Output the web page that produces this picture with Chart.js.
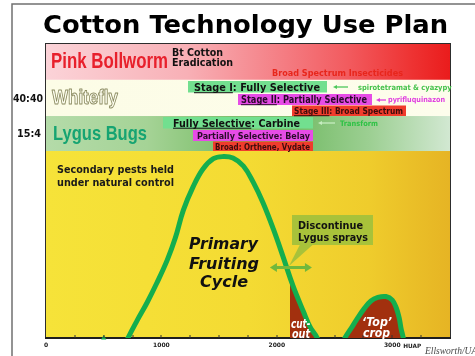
<!DOCTYPE html>
<html>
<head>
<meta charset="utf-8">
<script src="https://cdn.jsdelivr.net/npm/chart.js@4.4.1/dist/chart.umd.min.js"></script>
<style>html,body{margin:0;padding:0;background:#fff}</style>
</head>
<body>
<canvas id="myChart" width="475" height="356"></canvas>
<script>
// heat units (HUAP) on x, relative fruiting on y (0-100, 100 = top of panel)
const xMax = 3500;
const xTicks = [0, 1000, 2000, 3000];
// the curves run on below the axis and are clipped there
const curveX = [640, 710, 790, 875, 960, 1050, 1120, 1190, 1275, 1360, 1450, 1535, 1620, 1710, 1795, 1880, 1970, 2055, 2140, 2230, 2290, 2350, 2400];
const curveY = [-6, 0, 6, 12, 18.7, 26.5, 34, 43.5, 51.5, 57.5, 61, 61.7, 61.2, 58.5, 53, 46, 37, 27.5, 17.7, 9, 3.6, 0, -5];
const topCropX = [2560, 2590, 2645, 2695, 2755, 2815, 2875, 2945, 3000, 3035, 3060, 3075, 3095, 3110];
const topCropY = [-3, 0, 3.4, 6.5, 9.9, 12.6, 13.8, 14.1, 12.9, 10.2, 6.8, 3.4, 0, -4];
const cutoutStart = 2110;
const markerX = [500];
// band edges: pink bollworm / whitefly / lygus / field
const bandEdges = [100, 87.8, 75.5, 63.6, 0];
// discontinue lygus sprays window
const sprayArrow = [1940, 2304];
const sprayArrowY = 24;

const GREEN = '#14ae4e';
const BROWN = '#a2300e';
const VERD = "'DejaVu Sans', Verdana, sans-serif";
const NARROW = "'Liberation Sans Narrow', 'Liberation Sans', sans-serif";

const bandStops = [
  [[0, '#fbd3d8'], [0.35, '#f8b0b6'], [0.6, '#f47a80'], [0.75, '#f25a5e'], [0.9, '#ee3434'], [1, '#ea1c1c']],
  [[0, '#fcfce6'], [1, '#fdfdec']],
  [[0, '#b4dba9'], [0.25, '#a5d396'], [0.45, '#7dbf6b'], [0.62, '#76bc68'], [0.8, '#9ccf92'], [1, '#d2e8d2']],
  [[0, '#f6e339'], [0.5, '#f4db33'], [0.8, '#efcc2c'], [1, '#e6b424']]
];

function txt(ctx, s, x, y, o) {
  ctx.save();
  ctx.font = (o.style || '') + ' ' + (o.weight || 'bold') + ' ' + o.size + 'px ' + (o.family || VERD);
  ctx.textBaseline = 'alphabetic';
  const m = ctx.measureText(s).width;
  const sx = o.w ? o.w / m : 1;
  const left = o.align === 'center' ? x - m * sx / 2 : x;
  ctx.translate(left, y);
  ctx.scale(sx, 1);
  ctx.fillStyle = o.color || '#111';
  ctx.fillText(s, 0, 0);
  if (o.stroke) {
    ctx.lineWidth = o.lw || 1;
    ctx.strokeStyle = o.stroke;
    ctx.lineJoin = 'round';
    ctx.strokeText(s, 0, 0);
  }
  if (o.under) {
    ctx.fillRect(0, 1.2, ctx.measureText(o.under).width, 1);
  }
  ctx.restore();
}

function box(ctx, x, y, w, h, c) {
  ctx.fillStyle = c;
  ctx.fillRect(x, y, w, h);
}

// thin arrow pointing left
function leftArrow(ctx, x1, x2, y, c) {
  ctx.save();
  ctx.strokeStyle = c; ctx.fillStyle = c; ctx.lineWidth = 1.3;
  ctx.beginPath(); ctx.moveTo(x1, y); ctx.lineTo(x2 + 3, y); ctx.stroke();
  ctx.beginPath(); ctx.moveTo(x2, y); ctx.lineTo(x2 + 4, y - 2); ctx.lineTo(x2 + 4, y + 2); ctx.closePath(); ctx.fill();
  ctx.restore();
}

const slidePlugin = {
  id: 'slide',
  beforeDraw(chart) {
    const {ctx, chartArea: ca, scales: {y}} = chart;
    ctx.save();
    ctx.fillStyle = '#fff';
    ctx.fillRect(0, 0, chart.width, chart.height);
    ctx.strokeStyle = '#707070'; ctx.lineWidth = 1.5;
    ctx.beginPath(); ctx.moveTo(12, 356); ctx.lineTo(12, 4); ctx.lineTo(475, 4); ctx.stroke();

    // bands
    for (let i = 0; i < bandStops.length; i++) {
      const top = y.getPixelForValue(bandEdges[i]);
      const bot = y.getPixelForValue(bandEdges[i + 1]);
      const g = ctx.createLinearGradient(ca.left, 0, ca.right, 0);
      bandStops[i].forEach(s => g.addColorStop(s[0], s[1]));
      ctx.fillStyle = g;
      ctx.fillRect(ca.left, top, ca.right - ca.left, bot - top);
    }
    ctx.strokeStyle = '#2d2d2d'; ctx.lineWidth = 1;
    ctx.strokeRect(ca.left - 0.5, ca.top - 0.5, ca.right - ca.left + 1, ca.bottom - ca.top);

    txt(ctx, 'Cotton Technology Use Plan', 43, 33, {size: 25, w: 405, color: '#000'});

    txt(ctx, 'Pink Bollworm', 51, 68, {size: 22, w: 117, family: NARROW, color: '#e8202c'});
    txt(ctx, 'Bt Cotton', 172, 55.5, {size: 10.5, w: 51});
    txt(ctx, 'Eradication', 172, 65.5, {size: 10.5, w: 61});
    txt(ctx, 'Broad Spectrum Insecticides', 272, 76, {size: 9, w: 131, color: '#e8261c'});
    txt(ctx, '40:40', 13, 102, {size: 10.5, w: 30});
    txt(ctx, '15:4', 17, 137, {size: 10.5, w: 24});
    txt(ctx, 'Whitefly', 52, 104, {size: 21, w: 66, family: NARROW, color: '#fdfdf0', stroke: '#8c8c62', lw: 1});
    txt(ctx, 'Lygus Bugs', 53, 140, {size: 21, w: 94, family: NARROW, color: '#16a472'});

    // whitefly stages
    box(ctx, 188, 81, 139, 11.5, '#72df8f');
    txt(ctx, 'Stage I: Fully Selective', 194, 91, {size: 10.5, w: 126, under: 'Stage I'});
    leftArrow(ctx, 348, 333, 87, '#4cc85a');
    ctx.save();
    ctx.beginPath(); ctx.rect(0, 0, 452, 356); ctx.clip();
    txt(ctx, 'spirotetramat & cyazypyr', 358, 89.5, {size: 7.5, w: 97, color: '#46c24c'});
    ctx.restore();
    box(ctx, 238, 94, 134, 11, '#e64ce6');
    txt(ctx, 'Stage II: Partially Selective', 241, 103, {size: 10.5, w: 126, under: 'Stage II', color: '#2a0a2a'});
    leftArrow(ctx, 386, 376, 100, '#e040e0');
    txt(ctx, 'pyrifluquinazon', 388, 102, {size: 7.5, w: 57, color: '#e040e0'});
    box(ctx, 292, 105.5, 114, 10.5, '#f03c2c');
    txt(ctx, 'Stage III: Broad Spectrum', 294, 114, {size: 9.5, w: 109, under: 'Stage III', color: '#3c0c0c'});

    // lygus options
    box(ctx, 163, 117, 150, 11.5, '#72df8f');
    txt(ctx, 'Fully Selective: Carbine', 173, 126.5, {size: 10.5, w: 127, under: 'Fully Selective'});
    leftArrow(ctx, 335, 318, 123, '#c6ecc0');
    txt(ctx, 'Transform', 340, 125.5, {size: 7.5, w: 38, color: '#2ec245'});
    box(ctx, 193, 130, 120, 11, '#e64ce6');
    txt(ctx, 'Partially Selective: Belay', 197, 138.5, {size: 9.5, w: 113, color: '#2a0a2a'});
    box(ctx, 213, 141.5, 100, 9.5, '#f03c2c');
    txt(ctx, 'Broad: Orthene, Vydate', 215, 149.5, {size: 9, w: 95, color: '#3c0c0c'});

    txt(ctx, 'Secondary pests held', 57, 172.5, {size: 10.5, w: 117, color: '#1a1a1a'});
    txt(ctx, 'under natural control', 57, 185.5, {size: 10.5, w: 117, color: '#1a1a1a'});
    ctx.restore();
  },
  afterDatasetsDraw(chart) {
    const {ctx, chartArea: ca, scales: {x, y}} = chart;
    ctx.save();
    // minor ticks
    ctx.fillStyle = '#333';
    for (let v = 250; v < xMax; v += 250) {
      ctx.fillRect(Math.round(x.getPixelForValue(v)) - 0.5, ca.bottom - 3, 1, 3);
    }
    ctx.font = 'bold 6px ' + VERD;
    const hx = x.getPixelForValue(3000) + ctx.measureText('3000').width / 2 + 2.5;
    txt(ctx, 'HUAP', hx, 348, {size: 6, w: 18, color: '#222'});

    txt(ctx, 'Primary', 223.5, 249, {size: 16.5, w: 69, style: 'italic', align: 'center'});
    txt(ctx, 'Fruiting', 224, 268.5, {size: 16.5, w: 70, style: 'italic', align: 'center'});
    txt(ctx, 'Cycle', 224, 287, {size: 16.5, w: 48, style: 'italic', align: 'center'});

    // callout
    ctx.fillStyle = '#a8c23a';
    ctx.fillRect(292, 215, 81, 30);
    ctx.beginPath(); ctx.moveTo(300, 244.5); ctx.lineTo(313, 244.5); ctx.lineTo(289, 266); ctx.closePath(); ctx.fill();
    txt(ctx, 'Discontinue', 298, 228.5, {size: 10.5, w: 65});
    txt(ctx, 'Lygus sprays', 298, 241, {size: 10.5, w: 70});

    // double arrow
    const ax1 = x.getPixelForValue(sprayArrow[0]);
    const ax2 = x.getPixelForValue(sprayArrow[1]);
    const ay = y.getPixelForValue(sprayArrowY);
    ctx.strokeStyle = '#72b83c'; ctx.fillStyle = '#72b83c'; ctx.lineWidth = 3;
    ctx.beginPath(); ctx.moveTo(ax1 + 5, ay); ctx.lineTo(ax2 - 5, ay); ctx.stroke();
    ctx.beginPath(); ctx.moveTo(ax1, ay); ctx.lineTo(ax1 + 7, ay - 4.5); ctx.lineTo(ax1 + 7, ay + 4.5); ctx.closePath(); ctx.fill();
    ctx.beginPath(); ctx.moveTo(ax2, ay); ctx.lineTo(ax2 - 7, ay - 4.5); ctx.lineTo(ax2 - 7, ay + 4.5); ctx.closePath(); ctx.fill();

    txt(ctx, 'cut-', 291, 328, {size: 11.5, w: 19.5, style: 'italic', color: '#fff'});
    txt(ctx, 'out', 292, 337.5, {size: 11.5, w: 18, style: 'italic', color: '#fff'});
    txt(ctx, '\u2018Top\u2019', 362, 325.5, {size: 11.5, w: 30, style: 'italic', color: '#fff'});
    txt(ctx, 'crop', 363, 336.5, {size: 11.5, w: 27, style: 'italic', color: '#fff'});

    txt(ctx, 'Ellsworth/UA', 425, 353.5, {size: 9.5, weight: 'normal', style: 'italic', family: "'Liberation Serif', serif", color: '#4a4a4a'});
    ctx.restore();
  }
};

// brown fill only after cut-out
function cutoutFill(c) {
  const chart = c.chart;
  const ca = chart.chartArea;
  if (!ca) return 'rgba(0,0,0,0)';
  const px = chart.scales.x.getPixelForValue(cutoutStart);
  const t = (px - ca.left) / (ca.right - ca.left);
  const g = chart.ctx.createLinearGradient(ca.left, 0, ca.right, 0);
  g.addColorStop(0, 'rgba(0,0,0,0)');
  g.addColorStop(t, 'rgba(0,0,0,0)');
  g.addColorStop(t, BROWN);
  g.addColorStop(1, BROWN);
  return g;
}

var ctx = document.getElementById('myChart').getContext('2d');
var myChart = new Chart(ctx, {
  type: 'line',
  data: {
    datasets: [{
      label: 'Primary fruiting',
      data: curveX.map((v, i) => ({x: v, y: curveY[i]})),
      borderColor: GREEN,
      borderWidth: 5,
      pointRadius: 0,
      fill: 'origin',
      backgroundColor: cutoutFill,
      tension: 0.4,
      clip: {left: 0, top: 5, right: 0, bottom: 0}
    },
    {
      label: 'Top crop',
      data: topCropX.map((v, i) => ({x: v, y: topCropY[i]})),
      borderColor: GREEN,
      borderWidth: 5,
      pointRadius: 0,
      fill: 'origin',
      backgroundColor: BROWN,
      tension: 0.4,
      clip: {left: 0, top: 5, right: 0, bottom: 0}
    },
    {
      label: 'marker',
      data: markerX.map(v => ({x: v, y: 0})),
      showLine: false,
      pointStyle: 'triangle',
      pointRadius: 3,
      backgroundColor: GREEN,
      borderColor: GREEN,
      borderWidth: 0,
      clip: false
    }]
  },
  options: {
    responsive: false,
    devicePixelRatio: 1,
    animation: false,
    events: [],
    layout: {padding: {left: 46, right: 25, top: 44, bottom: 7}},
    plugins: {legend: {display: false}, tooltip: {enabled: false}},
    scales: {
      x: {
        type: 'linear',
        min: 0,
        max: xMax,
        z: 1,
        grid: {display: false, drawTicks: false},
        border: {display: true, color: '#1e1e1e', width: 2},
        afterBuildTicks: s => { s.ticks = xTicks.map(v => ({value: v})); },
        ticks: {
          maxRotation: 0,
          autoSkip: false,
          padding: 4,
          color: '#222',
          font: {family: 'DejaVu Sans', size: 6, weight: 'bold'},
          callback: v => String(v)
        },
        afterFit: s => { s.height = 11; }
      },
      y: {display: false, min: 0, max: 100}
    }
  },
  plugins: [slidePlugin]
});
</script>
</body>
</html>
